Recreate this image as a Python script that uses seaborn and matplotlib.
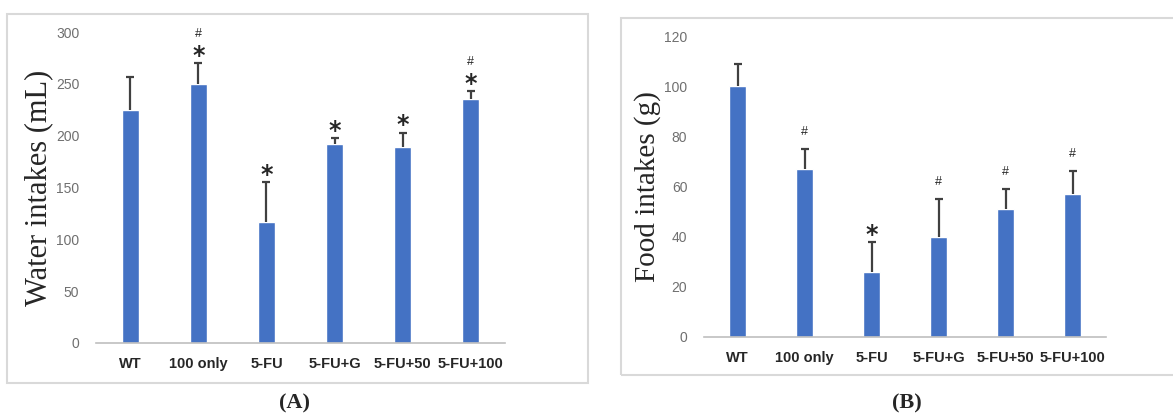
import numpy as np
import pandas as pd
import seaborn as sns
from matplotlib import pyplot as plt
from matplotlib.patches import Rectangle

groups = ["WT", "100 only", "5-FU", "5-FU+G", "5-FU+50", "5-FU+100"]

water_mean = [225, 250, 117, 192, 189, 235]
water_sd = [32, 20, 38, 6, 14, 8]
water_marks = [[], ["*", "#"], ["*"], ["*"], ["*"], ["*", "#"]]
water_ticks = [0, 50, 100, 150, 200, 250, 300]

food_mean = [100, 67, 26, 40, 51, 57]
food_sd = [9, 8, 12, 15, 8, 9]
food_marks = [[], ["#"], ["*"], ["#"], ["#"], ["#"]]
food_ticks = [0, 20, 40, 60, 80, 100, 120]

sns.set_style("white")
plt.rcParams['font.family'] = ['Liberation Sans', 'DejaVu Sans']

BAR = "#4472C4"
GREY = "#6f6f6f"


def draw_panel(ax, mean, sd, marks, ticks, ylabel, label_size, boundary_ticks):
    df = pd.DataFrame({"group": groups, "value": mean})
    sns.barplot(data=df, x="group", y="value", color=BAR, width=0.25,
                saturation=1, ax=ax)
    x = np.arange(len(groups))
    eb = ax.errorbar(x, mean, yerr=[np.zeros(len(sd)), sd], fmt="none",
                     ecolor="#404040", elinewidth=1.6, capsize=3, capthick=1.6)
    # only the upper cap, like the original
    eb[1][0].set_visible(False)
    tops = np.array(mean) + np.array(sd)
    for i, m in enumerate(marks):
        if "*" in m:
            ax.annotate("*", xy=(i, tops[i]), xytext=(0, -3.5),
                        textcoords="offset points", ha="center",
                        va="bottom", fontsize=17, fontweight="bold",
                        family="DejaVu Sans")
            hash_off = 16.5
        else:
            hash_off = 8
        if "#" in m:
            ax.annotate("#", xy=(i, tops[i]), xytext=(0, hash_off),
                        textcoords="offset points", ha="center",
                        va="bottom", fontsize=9)
    ax.set_xlim(-0.5, 5.5)
    ax.set_ylim(ticks[0], ticks[-1])
    ax.set_yticks(ticks)
    ax.tick_params(axis="y", length=0, labelsize=10, labelcolor=GREY, pad=12)
    ax.tick_params(axis="x", which="major", length=0, pad=10)
    for t in ax.get_xticklabels():
        t.set_fontweight("bold")
        t.set_fontsize(10.5)
    if boundary_ticks:
        ax.set_xticks(np.arange(-0.5, 6, 1), minor=True)
        ax.tick_params(axis="x", which="minor", length=5, color="#bfbfbf",
                       width=1, direction="out")
    ax.set_xlabel("")
    ax.set_ylabel(ylabel, family=["Liberation Serif"], fontsize=label_size,
                  labelpad=2)
    for side in ["top", "right", "left"]:
        ax.spines[side].set_visible(False)
    ax.spines["bottom"].set_color("#bfbfbf")
    ax.spines["bottom"].set_linewidth(1.2)


fig = plt.figure(figsize=(11.73, 4.18), dpi=100)
W, H = 1173, 418

fig.patches.append(Rectangle((7 / W, 1 - 383 / H), 581 / W, 369 / H,
                             transform=fig.transFigure, fill=False,
                             edgecolor="#d9d9d9", linewidth=1.5))
fig.patches.append(Rectangle((621 / W, 1 - 375 / H), 560 / W, 357 / H,
                             transform=fig.transFigure, fill=False,
                             edgecolor="#d9d9d9", linewidth=1.5))

ax1 = fig.add_axes([96 / W, 1 - 343 / H, 409 / W, 311 / H])
ax2 = fig.add_axes([704 / W, 1 - 337 / H, 402 / W, 301 / H])

draw_panel(ax1, water_mean, water_sd, water_marks, water_ticks,
           "Water intakes (mL)", 22, True)
draw_panel(ax2, food_mean, food_sd, food_marks, food_ticks,
           "Food intakes (g)", 21, False)

fig.text(295 / W, 1 - 403 / H, "(A)", ha="center", va="center",
         family=["Liberation Serif"], fontsize=16, fontweight="bold")
fig.text(907 / W, 1 - 403 / H, "(B)", ha="center", va="center",
         family=["Liberation Serif"], fontsize=16, fontweight="bold")

plt.savefig("out.png", dpi=100)
